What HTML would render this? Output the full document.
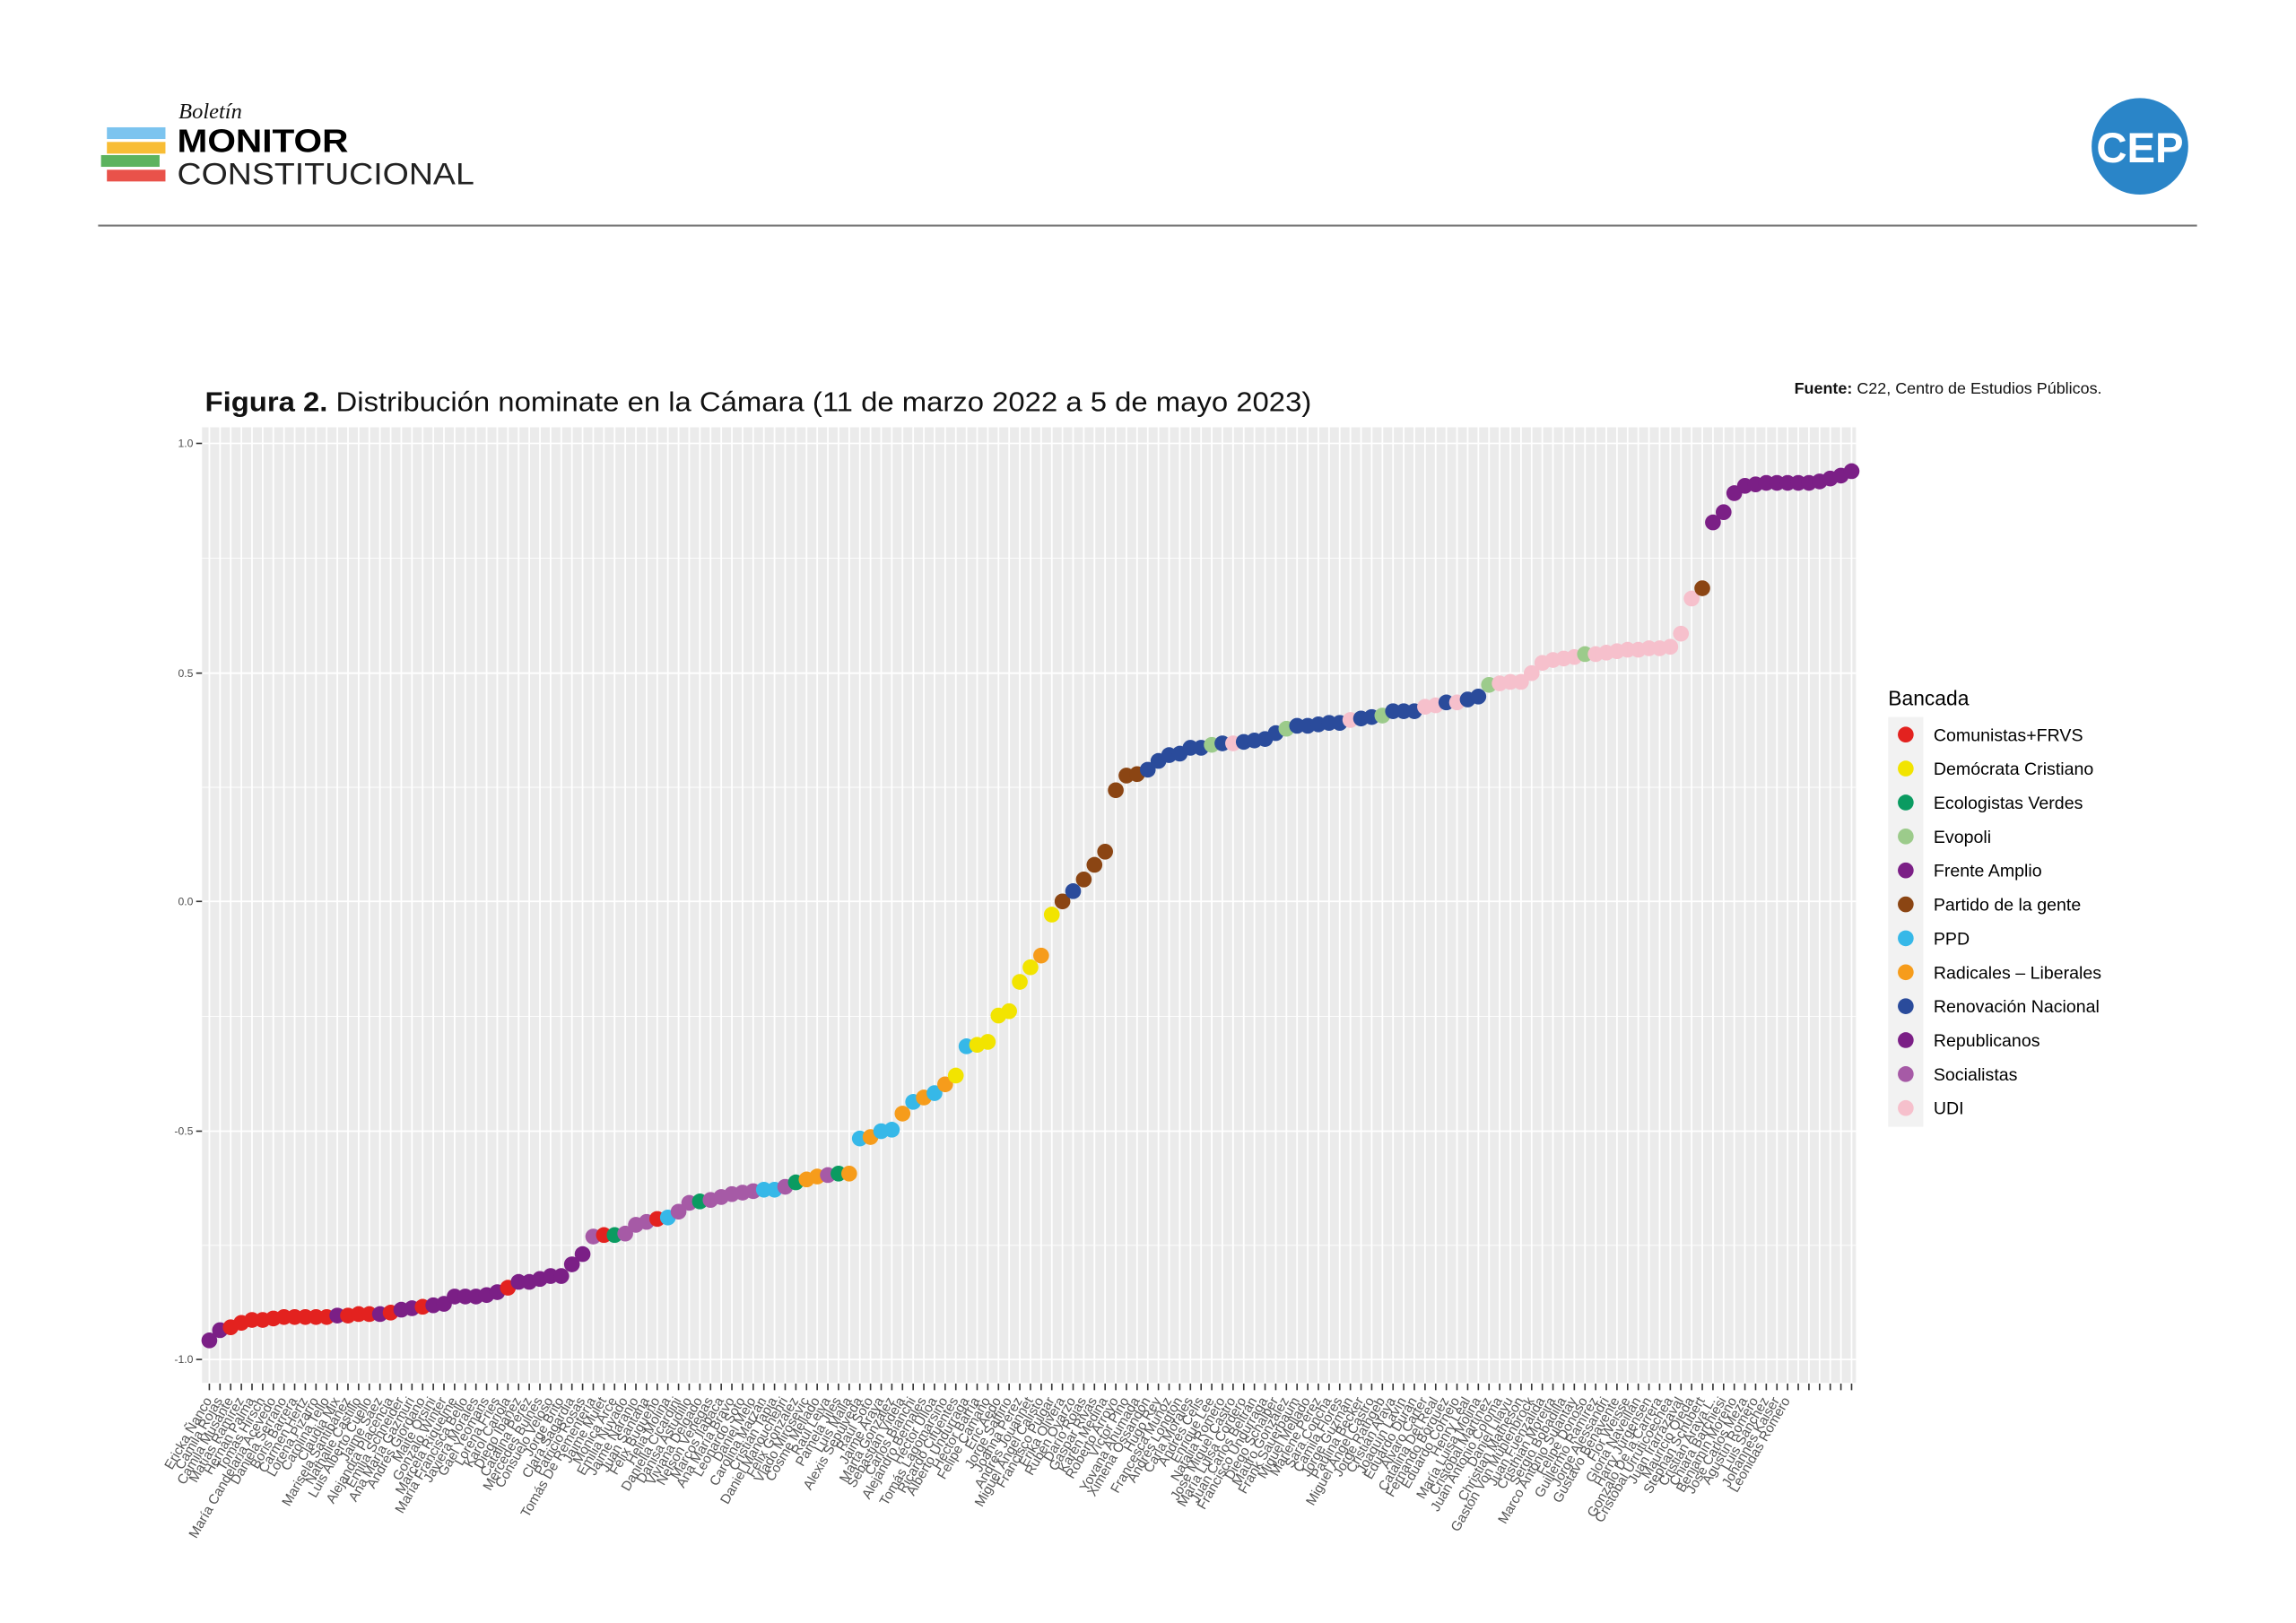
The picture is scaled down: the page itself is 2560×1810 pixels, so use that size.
<!DOCTYPE html>
<html><head><meta charset="utf-8">
<style>
html,body{margin:0;padding:0;background:#fff;}
svg{display:block;}
text{font-family:"Liberation Sans",sans-serif;}
</style></head>
<body>
<svg id="s" xmlns="http://www.w3.org/2000/svg" width="2560" height="1810" viewBox="0 0 1568.6 1109.1">
<rect width="1580" height="1120" fill="#fff"/>
<text x="122" y="81" font-family="Liberation Serif" font-style="italic" font-size="15" fill="#111" style="font-family:'Liberation Serif',serif">Boletín</text>
<rect x="73" y="87" width="40" height="8" fill="#7cc4ef"/>
<rect x="73" y="97" width="40" height="8" fill="#f8bd35"/>
<rect x="69" y="106" width="40" height="8" fill="#5db35e"/>
<rect x="73" y="116" width="40" height="8" fill="#e9524a"/>
<text x="121" y="104" font-size="22" font-weight="bold" fill="#000" textLength="117" lengthAdjust="spacingAndGlyphs">MONITOR</text>
<text x="121" y="126" font-size="21" fill="#222" textLength="203" lengthAdjust="spacingAndGlyphs">CONSTITUCIONAL</text>
<circle cx="1462" cy="100" r="33" fill="#2a85c8"/>
<text x="1462" y="111" font-size="29" font-weight="bold" fill="#fff" text-anchor="middle">CEP</text>
<rect x="67" y="153.5" width="1434" height="1.3" fill="#777"/>
<text x="140" y="281" font-size="18.5" fill="#111" textLength="756" lengthAdjust="spacingAndGlyphs"><tspan font-weight="bold">Figura 2.</tspan> Distribución nominate en la Cámara (11 de marzo 2022 a 5 de mayo 2023)</text>
<text x="1436" y="269" font-size="11" fill="#111" text-anchor="end"><tspan font-weight="bold">Fuente:</tspan> C22, Centro de Estudios Públicos.</text>
<rect x="138" y="292" width="1130" height="653" fill="#ebebeb"/>
<g id="grid"></g>
<g id="pts"></g>
<g id="ax" fill="#4d4d4d" font-size="7.5" text-anchor="end">
<text x="132" y="305.5">1.0</text>
<text x="132" y="462.5">0.5</text>
<text x="132" y="618.5">0.0</text>
<text x="132" y="775.5">-0.5</text>
<text x="132" y="931.5">-1.0</text>
</g>
<g stroke="#333" stroke-width="1">
<line x1="134" x2="138" y1="303" y2="303"/><line x1="134" x2="138" y1="460" y2="460"/><line x1="134" x2="138" y1="616" y2="616"/><line x1="134" x2="138" y1="773" y2="773"/><line x1="134" x2="138" y1="929" y2="929"/>
</g>
<g id="xl" fill="#555" font-size="9.3" text-anchor="end"></g>
<text x="1290" y="482" font-size="14" fill="#000">Bancada</text>
<rect x="1290" y="490" width="24" height="280" fill="#f2f2f2"/>
<g id="leg" font-size="12" fill="#000"></g>
</svg>
<script>
var C={red:"#e3221f",dc:"#f2e400",eco:"#0a9b61",evo:"#9ccb8b",fa:"#7b1f86",pdg:"#8b4513",ppd:"#36b8e8",rad:"#f69c1b",rn:"#2a4b9b",soc:"#a65aa6",udi:"#f6c0cc"};
var P=[[916,"fa"],[909,"fa"],[907,"red"],[904,"red"],[902,"red"],[902,"red"],[901,"red"],[900,"red"],[900,"red"],[900,"red"],[900,"red"],[900,"red"],[899,"fa"],[899,"red"],[898,"red"],[898,"red"],[898,"fa"],[897,"red"],[895,"fa"],[894,"fa"],[893,"red"],[892,"fa"],[891,"fa"],[886,"fa"],[886,"fa"],[886,"fa"],[885,"fa"],[883,"fa"],[880,"red"],[876,"fa"],[876,"fa"],[874,"fa"],[872,"fa"],[872,"fa"],[864,"fa"],[857,"fa"],
[845,"soc"],[844,"red"],[844,"eco"],[843,"soc"],[837,"soc"],[835,"soc"],[833,"red"],[832,"ppd"],[828,"soc"],[822,"soc"],[821,"eco"],[820,"soc"],[818,"soc"],[816,"soc"],[815,"soc"],[814,"soc"],[813,"ppd"],[813,"ppd"],[811,"soc"],[808,"eco"],[806,"rad"],[804,"rad"],[803,"soc"],[802,"eco"],[802,"rad"],
[778,"ppd"],[777,"rad"],[773,"ppd"],[772,"ppd"],[761,"rad"],[753,"ppd"],[750,"rad"],[747,"ppd"],[741,"rad"],[735,"dc"],[715,"ppd"],[714,"dc"],[712,"dc"],[694,"dc"],[691,"dc"],[671,"dc"],[661,"dc"],[653,"rad"],[625,"dc"],[616,"pdg"],[609,"rn"],[601,"pdg"],[591,"pdg"],[582,"pdg"],[540,"pdg"],[530,"pdg"],[529,"pdg"],
[526,"rn"],[520,"rn"],[516,"rn"],[515,"rn"],[511,"rn"],[511,"rn"],[509,"evo"],[508,"rn"],[508,"udi"],[507,"rn"],[506,"rn"],[505,"rn"],[501,"rn"],[498,"evo"],[496,"rn"],[496,"rn"],[495,"rn"],[494,"rn"],[494,"rn"],[492,"udi"],[491,"rn"],[490,"rn"],[489,"evo"],[486,"rn"],[486,"rn"],[486,"rn"],[483,"udi"],[482,"udi"],[480,"rn"],[480,"udi"],[478,"rn"],[476,"rn"],
[468,"evo"],[467,"udi"],[466,"udi"],[466,"udi"],[460,"udi"],[453,"udi"],[451,"udi"],[450,"udi"],[449,"udi"],[447,"evo"],[447,"udi"],[446,"udi"],[445,"udi"],[444,"udi"],[444,"udi"],[443,"udi"],[443,"udi"],[442,"udi"],[433,"udi"],[409,"udi"],[402,"pdg"],
[357,"fa"],[350,"fa"],[337,"fa"],[332,"fa"],[331,"fa"],[330,"fa"],[330,"fa"],[330,"fa"],[330,"fa"],[330,"fa"],[329,"fa"],[327,"fa"],[325,"fa"],[322,"fa"]];
var N=["Ericka Ñanco","Camila Rojas","Camila Musante","Matías Ramírez","Hernán Palma","Tomás Hirsch","María Candelaria Acevedo","Daniela Serrano","Boris Barrera","Carmen Hertz","Lorena Pizarro","Carolina Tello","Claudia Mix","Marisela Santibáñez","Nathalie Castillo","Luis Alberto Cuello","Jaime Sáez","Alejandra Placencia","Emilia Schneider","Ana María Gazmuri","Andrés Giordano","Maite Orsini","Gonzalo Winter","Marcela Riquelme","María Francisca Bello","Javiera Morales","Gael Yeomans","Lorena Fries","Karol Cariola","Diego Ibáñez","Catalina Pérez","Mercedes Bulnes","Consuelo Veloso","Jorge Brito","Clara Sagardia","Patricio Rosas","Tomás De Rementería","Jaime Mulet","Mónica Arce","Emilia Nuyado","Jaime Naranjo","Juan Santana","Félix Bugueño","Helia Molina","Daniella Cicardini","Danisa Astudillo","Viviana Delgado","Nelson Venegas","Marcos Ilabaca","Ana María Bravo","Leonardo Soto","Daniel Melo","Carolina Marzán","Cristián Tapia","Daniel Manouchehri","Félix González","Vlado Mirosevic","Cosme Mellado","Raúl Leiva","Pamela Jiles","Luis Malla","Alexis Sepúlveda","Raúl Soto","Jaime Araya","Marta González","Sebastián Videla","Carlos Bianchi","Alejandro Bernales","Héctor Ulloa","Tomás Lagomarsino","Ricardo Cifuentes","Alberto Undurraga","Héctor Barría","Felipe Camaño","Eric Aedo","Jorge Saffirio","Joanna Pérez","Andrés Jouannet","Miguel Ángel Calisto","Francisco Pulgar","Erika Olivera","Rubén Oyarzo","Darío Rojas","Gaspar Rivas","Karen Medina","Roberto Arroyo","Víctor Pino","Yovana Ahumada","Ximena Ossandón","Hugo Rey","Francesca Muñoz","Andrés Longton","Carla Morales","Andrés Celis","Enrique Lee","Natalia Romero","José Miguel Castro","María Luisa Cordero","Juan Carlos Beltrán","Francisco Undurraga","Diego Schalper","Mauro González","Frank Sauerbaum","Miguel Mellado","Marlene Pérez","Sara Concha","Camila Flores","Jorge Guzmán","Paulina Becker","Miguel Ángel Castro","Jorge Rathgeb","Cristián Araya","Joaquín Lavín","Eduardo Durán","Álvaro Carter","Catalina Del Real","Fernando Bórquez","Eduardo Cornejo","Henry Leal","María Luisa Molina","Cristóbal Martínez","Juan Antonio Coloma","Daniel Lilayu","Christian Matheson","Gastón Von Mühlenbrock","Juan Fuenzalida","Cristhian Moreira","Sergio Bobadilla","Marco Antonio Sulantay","Felipe Donoso","Guillermo Ramírez","Jorge Alessandri","Gustavo Benavente","Flor Weisse","Gloria Naveillán","Harry Jürgensen","Gonzalo De la Carrera","Cristóbal Urruticoechea","Juan Irarrázaval","Mauricio Ojeda","Stephan Schubert","Cristián Araya L.","Chiara Barchiesi","Benjamín Moreno","José Carlos Meza","Agustín Romero","Luis Sánchez","Johannes Kaiser","Leonidas Romero"];
var ns="http://www.w3.org/2000/svg";
function el(t,a,p){var e=document.createElementNS(ns,t);for(var k in a)e.setAttribute(k,a[k]);p.appendChild(e);return e;}
var g=document.getElementById("grid"),pts=document.getElementById("pts"),xl=document.getElementById("xl");
[303,460,616,773,929].forEach(function(y){el("line",{x1:138,x2:1268,y1:y,y2:y,stroke:"#fff","stroke-width":1.1},g);});
[381.5,538,694.5,851].forEach(function(y){el("line",{x1:138,x2:1268,y1:y,y2:y,stroke:"#fff","stroke-width":0.55},g);});
var n=P.length,dx=(1265-143)/(n-1);
for(var i=0;i<n;i++){var x=143+dx*i;
el("line",{x1:x,x2:x,y1:292,y2:945,stroke:"#fff","stroke-width":1.1},g);
el("line",{x1:x,x2:x,y1:945.5,y2:950,stroke:"#333","stroke-width":1},g);
el("circle",{cx:x,cy:P[i][0],r:5.4,fill:C[P[i][1]]},pts);
var t=el("text",{x:x+2,y:957,transform:"rotate(-60 "+(x+2)+" 957)"},xl);t.textContent=N[i]||"";}
var lg=document.getElementById("leg");
var L=[["red","Comunistas+FRVS"],["dc","Demócrata Cristiano"],["eco","Ecologistas Verdes"],["evo","Evopoli"],["fa","Frente Amplio"],["pdg","Partido de la gente"],["ppd","PPD"],["rad","Radicales – Liberales"],["rn","Renovación Nacional"],["fa","Republicanos"],["soc","Socialistas"],["udi","UDI"]];
L.forEach(function(l,k){var y=502+23.2*k;el("circle",{cx:1302,cy:y,r:5.4,fill:C[l[0]]},lg);var t=el("text",{x:1321,y:y+4.3},lg);t.textContent=l[1];});
</script>
</body></html>
